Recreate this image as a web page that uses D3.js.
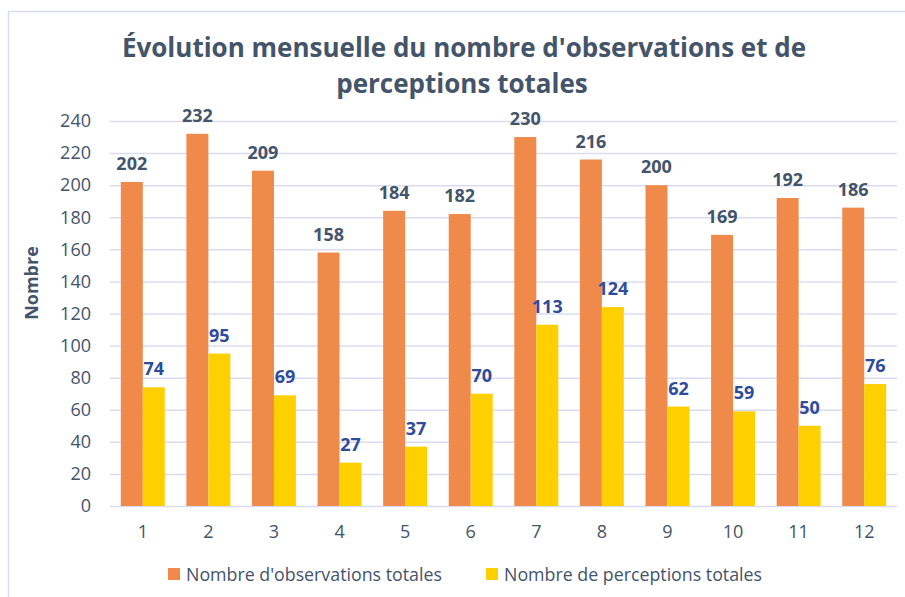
<!DOCTYPE html>
<html><head><meta charset="utf-8">
<script src="https://cdn.jsdelivr.net/npm/d3@7"></script>
<style>
html,body{margin:0;padding:0;background:#fff;}
svg{display:block;font-family:"Open Sans","Segoe UI",sans-serif;}
</style></head>
<body><svg id="c" width="905" height="597"></svg>
<script>
const months = ["1","2","3","4","5","6","7","8","9","10","11","12"];
const observations = [202,232,209,158,184,182,230,216,200,169,192,186];
const perceptions = [74,95,69,27,37,70,113,124,62,59,50,76];
const yTicks = [0,20,40,60,80,100,120,140,160,180,200,220,240];
const seriesNames = ["Nombre d'observations totales","Nombre de perceptions totales"];
const colors = ["#F08A4B","#FFD000"];
const labelColors = ["#44546A","#2F4B9B"];

const svg = d3.select("#c");
const M = {l:110, r:897, t:121, b:506};

// chart border
svg.append("path").attr("d","M8.5,597 L8.5,11.5 L905,11.5").attr("fill","none").attr("stroke","#D9DCF0").attr("stroke-width",1.5);

const x = d3.scaleBand().domain(months).range([M.l, M.r]).paddingInner(0.33).paddingOuter(0.165);
const y = d3.scaleLinear().domain([0,240]).range([M.b, M.t]);

// gridlines
svg.append("g").selectAll("line").data(yTicks).join("line")
  .attr("x1", M.l).attr("x2", M.r)
  .attr("y1", d=>y(d)+0.5).attr("y2", d=>y(d)+0.5)
  .attr("stroke","#D9DCF0").attr("stroke-width",1.5);

// y axis
const yAxis = d3.axisLeft(y).tickValues(yTicks).tickSize(0).tickPadding(0);
const gy = svg.append("g").attr("transform",`translate(${M.l-19},0)`).call(yAxis);
gy.select(".domain").remove();
gy.selectAll("text").attr("fill","#44546A").style("font-size","18px").style("font-family","Open Sans");

// x axis
const xAxis = d3.axisBottom(x).tickSize(0).tickPadding(0);
const gx = svg.append("g").attr("transform",`translate(0,${M.b+19})`).call(xAxis);
gx.select(".domain").remove();
gx.selectAll("text").attr("fill","#44546A").style("font-size","18px").style("font-family","Open Sans");

const sub = d3.scaleBand().domain([0,1]).range([0, x.bandwidth()]);
const series = [observations, perceptions];
series.forEach((vals, si) => {
  const g = svg.append("g");
  g.selectAll("rect").data(vals).join("rect")
    .attr("x", (d,i)=> x(months[i]) + sub(si))
    .attr("width", sub.bandwidth())
    .attr("y", d=>y(d)).attr("height", d=>y(0)-y(d))
    .attr("fill", colors[si]);
  g.selectAll("text").data(vals).join("text")
    .attr("x", (d,i)=> x(months[i]) + sub(si) + sub.bandwidth()/2)
    .attr("y", d=>y(d)-12)
    .attr("text-anchor","middle")
    .attr("fill", labelColors[si])
    .style("font-size","18px").style("font-weight","700")
    .text(d=>d);
});

// title
const title = svg.append("text").attr("text-anchor","middle").attr("fill","#44546A")
  .style("font-size","26px").style("font-weight","700");
title.append("tspan").attr("x",464).attr("y",57).text("Évolution mensuelle du nombre d'observations et de");
title.append("tspan").attr("x",462).attr("y",93).text("perceptions totales");

// y title
svg.append("text").attr("transform","translate(38,283) rotate(-90)").attr("text-anchor","middle")
  .attr("fill","#44546A").style("font-size","18px").style("font-weight","700").text("Nombre");

// legend
const legX = [168, 486];
seriesNames.forEach((n,i)=>{
  svg.append("rect").attr("x",legX[i]).attr("y",568).attr("width",12).attr("height",12).attr("fill",colors[i]);
  svg.append("text").attr("x",legX[i]+18).attr("y",581).attr("fill","#44546A").style("font-size","17.8px").text(n);
});
</script></body></html>
